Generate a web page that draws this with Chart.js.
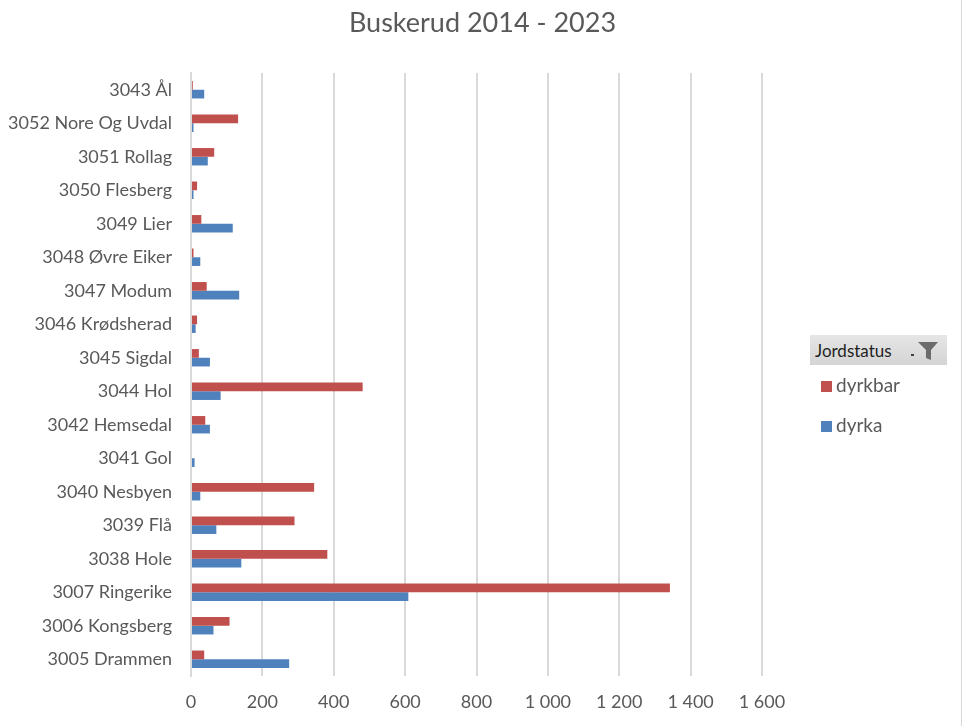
<!DOCTYPE html>
<html>
<head>
<meta charset="utf-8">
<script src="https://cdn.jsdelivr.net/npm/chart.js@4/dist/chart.umd.min.js"></script>
<style>
  html, body { margin: 0; padding: 0; background: #fff; }
  #wrap { position: relative; width: 965px; height: 726px; overflow: hidden; font-family: Lato, "Noto Sans", sans-serif; }
  #c { position: absolute; left: 0; top: 0; }
  #frame { position: absolute; left: 961px; top: 0; width: 1px; height: 726px; background: #d9d9d9; }
  #lghead { position: absolute; left: 810px; top: 335px; width: 137px; height: 30px;
    background: linear-gradient(#e6e6e6, #d4d4d4); box-sizing: border-box; }
  #lghead span.t { position: absolute; left: 5px; top: 5px; font-size: 17px; color: #1f1f1f; }
  #lghead svg { position: absolute; right: 6px; top: 6px; }
  .item { position: absolute; left: 821px; font-size: 19px; color: #595959; line-height: 20px; }
  .item i { display: inline-block; width: 11px; height: 11px; margin-right: 4px; vertical-align: 0px; }
</style>
</head>
<body>
<div id="wrap">
  <canvas id="c" width="965" height="726"></canvas>
  <div id="frame"></div>
  <div id="lghead"><span class="t">Jordstatus</span>
    <svg width="32" height="20" viewBox="0 0 32 20">
      <rect x="2" y="13" width="3" height="2" fill="#404040"/>
      <polygon points="9,1 29,1 22,9 22,19 17,17 17,9" fill="#6b6b6b"/>
    </svg>
  </div>
  <div id="legend"></div>
</div>
<script>
const categories = [
  "3043 Ål", "3052 Nore Og Uvdal", "3051 Rollag", "3050 Flesberg", "3049 Lier",
  "3048 Øvre Eiker", "3047 Modum", "3046 Krødsherad", "3045 Sigdal", "3044 Hol",
  "3042 Hemsedal", "3041 Gol", "3040 Nesbyen", "3039 Flå", "3038 Hole",
  "3007 Ringerike", "3006 Kongsberg", "3005 Drammen"
];
const dyrkbar = [5, 132, 65, 17, 29, 7, 44, 17, 22, 481, 40, 0, 345, 290, 382, 1342, 108, 37];
const dyrka   = [37, 7, 47, 7, 117, 26, 135, 13, 53, 83, 53, 10, 26, 71, 141, 609, 63, 275];
const seriesNames = ["dyrkbar", "dyrka"];
const seriesColors = ["#C0504D", "#4F81BD"];
const xTicks = [0, 200, 400, 600, 800, 1000, 1200, 1400, 1600];
const title = "Buskerud 2014 - 2023";

const FONT = "Lato, 'Noto Sans', sans-serif";
const GREY = "#595959";

function fmt(v) { return String(v).replace(/\B(?=(\d{3})+(?!\d))/g, " "); }

const pageTitle = {
  id: "pageTitle",
  afterDraw(chart) {
    const ctx = chart.ctx;
    ctx.save();
    ctx.font = "27px " + FONT;
    ctx.fillStyle = GREY;
    ctx.textAlign = "center";
    ctx.textBaseline = "middle";
    ctx.fillText(title, chart.width / 2, 23);
    ctx.restore();
  }
};

new Chart(document.getElementById("c"), {
  type: "bar",
  data: {
    labels: categories,
    datasets: [
      { label: seriesNames[0], data: dyrkbar, backgroundColor: seriesColors[0], borderWidth: 0 },
      { label: seriesNames[1], data: dyrka, backgroundColor: seriesColors[1], borderWidth: 0 }
    ]
  },
  plugins: [pageTitle],
  options: {
    responsive: false,
    animation: false,
    indexAxis: "y",
    devicePixelRatio: 1,
    layout: { padding: { left: 0, right: 203, top: 73, bottom: 0 } },
    datasets: { bar: { categoryPercentage: 0.52, barPercentage: 1 } },
    plugins: {
      legend: { display: false },
      tooltip: { enabled: false },
      title: { display: false }
    },
    scales: {
      x: {
        min: 0, max: 1600,
        afterBuildTicks: s => { s.ticks = xTicks.map(v => ({ value: v })); },
        afterFit: s => { s.height = 50; },
        grid: { color: "#d9d9d9", lineWidth: 2, drawTicks: false },
        border: { display: false },
        ticks: { color: GREY, padding: 15, font: { family: FONT, size: 18 }, callback: v => fmt(v), maxRotation: 0 }
      },
      y: {
        afterFit: s => { s.width = 191; },
        grid: { display: false, drawTicks: false },
        border: { display: true, color: "#d9d9d9", width: 2 },
        ticks: { color: GREY, padding: 19, font: { family: FONT, size: 18 }, autoSkip: false }
      }
    }
  }
});

const lg = document.getElementById("legend");
seriesNames.forEach((n, i) => {
  const d = document.createElement("div");
  d.className = "item";
  d.style.top = (375 + i * 40) + "px";
  d.innerHTML = '<i style="background:' + seriesColors[i] + '"></i>' + n;
  lg.appendChild(d);
});
</script>
</body>
</html>
